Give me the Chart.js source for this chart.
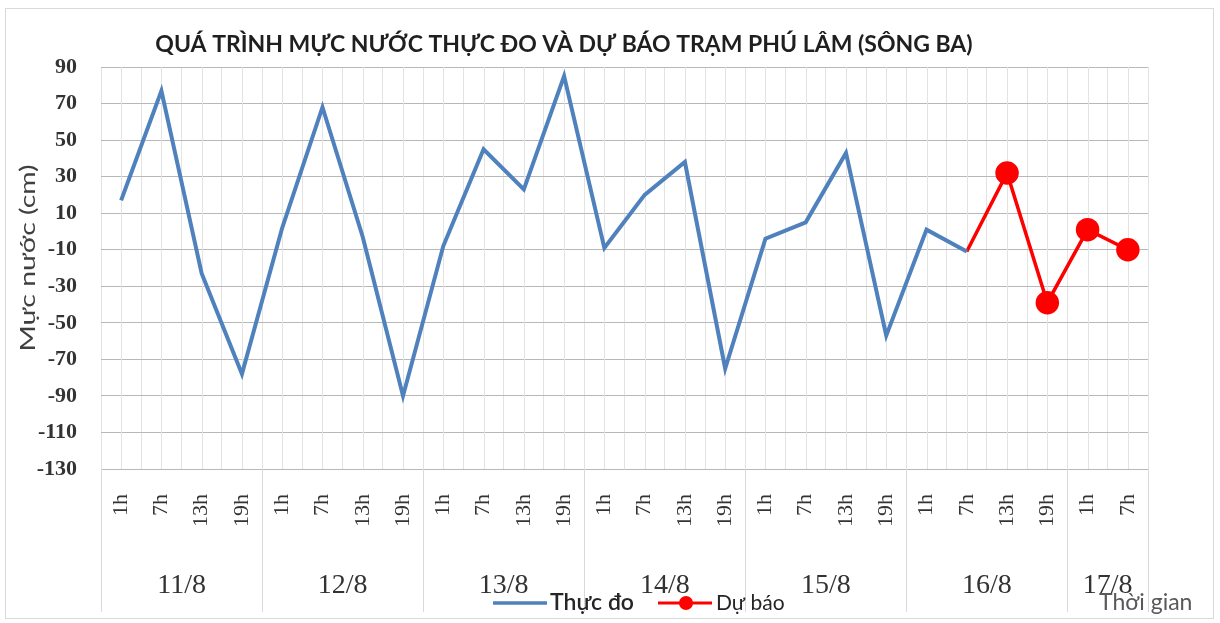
<!DOCTYPE html>
<html><head><meta charset="utf-8">
<script src="https://cdn.jsdelivr.net/npm/chart.js@4/dist/chart.umd.min.js"></script>
<style>html,body{margin:0;padding:0;background:#fff}</style>
</head><body>
<canvas id="c" width="1220" height="623" style="width:1220px;height:623px;display:block"></canvas>
<script>
// ---- data ----
const hourLabels = ['1h','7h','13h','19h','1h','7h','13h','19h','1h','7h','13h','19h','1h','7h','13h','19h','1h','7h','13h','19h','1h','7h','13h','19h','1h','7h'];
const dayLabels = ['11/8','12/8','13/8','14/8','15/8','16/8','17/8'];
const hoursPerDay = [4,4,4,4,4,4,2];
const observed = [17,77,-23,-78,2,68,-3,-90,-8,45,23,85,-9,20,38,-75,-4,5,43,-57,1,-11,null,null,null,null];
const forecast = [null,null,null,null,null,null,null,null,null,null,null,null,null,null,null,null,null,null,null,null,null,-11,32,-39,1,-10];
const yMin = -130, yMax = 90, yStep = 20;
const titleText = 'QUÁ TRÌNH MỰC NƯỚC THỰC ĐO VÀ DỰ BÁO TRẠM PHÚ LÂM (SÔNG BA)';
const yTitle = 'Mực nước (cm)';
const xTitle = 'Thời gian';
const seriesNames = ['Thực đo','Dự báo'];

const SANS = 'Lato, "Open Sans", sans-serif';
const SERIF = '"Liberation Serif", "DejaVu Serif", serif';
const BLUE = '#4f81bd', RED = '#ff0000';

const deco = {
  id: 'deco',
  beforeDraw(chart) {
    const ctx = chart.ctx;
    ctx.save();
    ctx.fillStyle = '#fff';
    ctx.fillRect(0, 0, chart.width, chart.height);
    ctx.strokeStyle = '#d9d9d9';
    ctx.lineWidth = 1;
    ctx.strokeRect(5.5, 8.5, 1208, 610);
    ctx.restore();
  },
  beforeDatasetsDraw(chart) {
    const ctx = chart.ctx, x = chart.scales.x, a = chart.chartArea;
    ctx.save();
    ctx.strokeStyle = '#e3e3e3';
    ctx.lineWidth = 1;
    for (let i = 0; i < hourLabels.length; i++) {
      const px = Math.round(x.getPixelForValue(i)) + 0.5;
      ctx.beginPath(); ctx.moveTo(px, a.top); ctx.lineTo(px, a.bottom); ctx.stroke();
    }
    ctx.restore();
  },
  afterDraw(chart) {
    const ctx = chart.ctx, x = chart.scales.x, a = chart.chartArea;
    ctx.save();
    // title
    ctx.fillStyle = '#1f1f1f';
    ctx.font = 'bold 23px ' + SANS;
    ctx.textAlign = 'center'; ctx.textBaseline = 'middle';
    ctx.fillText(titleText, 564, 45);
    // y axis title (rotated, slightly stretched along its length like the reference)
    ctx.save();
    ctx.translate(28, 258);
    ctx.rotate(-Math.PI / 2);
    ctx.scale(1.35, 1);
    ctx.font = '21px ' + SANS;
    ctx.fillStyle = '#404040';
    ctx.fillText(yTitle, 0, 0);
    ctx.restore();
    // day groups
    const half = (x.getPixelForValue(1) - x.getPixelForValue(0)) / 2;
    let idx = 0;
    ctx.strokeStyle = '#d9d9d9'; ctx.lineWidth = 1;
    ctx.font = '28px ' + SERIF; ctx.fillStyle = '#333333';
    for (let d = 0; d < dayLabels.length; d++) {
      const first = idx, last = idx + hoursPerDay[d] - 1;
      const l = x.getPixelForValue(first) - half, r = x.getPixelForValue(last) + half;
      [l, r].forEach(px => {
        const p = Math.round(px) + 0.5;
        ctx.beginPath(); ctx.moveTo(p, a.bottom); ctx.lineTo(p, 612); ctx.stroke();
      });
      ctx.fillText(dayLabels[d], (l + r) / 2, 586);
      idx += hoursPerDay[d];
    }
    // legend
    const ds = chart.data.datasets;
    ctx.lineCap = 'butt';
    ctx.strokeStyle = ds[0].borderColor; ctx.lineWidth = 3.5;
    ctx.beginPath(); ctx.moveTo(493, 603); ctx.lineTo(547, 603); ctx.stroke();
    ctx.textAlign = 'left';
    ctx.fillStyle = '#262626';
    ctx.font = '600 23px ' + SANS;
    ctx.fillText(ds[0].label, 550, 603);
    ctx.strokeStyle = ds[1].borderColor; ctx.lineWidth = 3;
    ctx.beginPath(); ctx.moveTo(658, 603); ctx.lineTo(712, 603); ctx.stroke();
    ctx.fillStyle = ds[1].pointBackgroundColor;
    ctx.beginPath(); ctx.arc(686, 603, 7, 0, Math.PI * 2); ctx.fill();
    ctx.fillStyle = '#262626';
    ctx.font = '21px ' + SANS;
    ctx.fillText(ds[1].label, 716, 603);
    // x title
    ctx.fillStyle = '#595959';
    ctx.font = '23px ' + SANS;
    ctx.fillText(xTitle, 1099, 603);
    ctx.restore();
  }
};

new Chart(document.getElementById('c'), {
  type: 'line',
  data: {
    labels: hourLabels,
    datasets: [
      { label: seriesNames[0], data: observed, borderColor: BLUE, backgroundColor: BLUE,
        borderWidth: 4, pointRadius: 0, tension: 0, spanGaps: false },
      { label: seriesNames[1], data: forecast, borderColor: RED, backgroundColor: RED,
        pointBackgroundColor: RED, pointBorderColor: RED,
        borderWidth: 3.5, pointRadius: forecast.map((v, i) => i === 21 ? 0 : 10), tension: 0 }
    ]
  },
  options: {
    responsive: false, animation: false, devicePixelRatio: 1,
    layout: { padding: { left: 0, top: 67, right: 72, bottom: 0 } },
    plugins: { legend: { display: false }, title: { display: false }, tooltip: { enabled: false } },
    scales: {
      x: {
        type: 'category', offset: true,
        grid: { color: '#e3e3e3', offset: true, drawTicks: false },
        border: { display: false },
        ticks: { autoSkip: false, minRotation: 90, maxRotation: 90, padding: 25,
                 color: '#333333', font: { family: SERIF, size: 22 } },
        afterFit(s) { s.height = 623 - 469; }
      },
      y: {
        min: yMin, max: yMax,
        grid: { color: '#b8b8b8', drawTicks: false },
        border: { display: false },
        ticks: { stepSize: yStep, padding: 24, color: '#333333',
                 font: { family: SERIF, size: 22, weight: 'bold' } },
        title: { display: false },
        afterFit(s) { s.width = 101; }
      }
    }
  },
  plugins: [deco]
});
</script>
</body></html>
